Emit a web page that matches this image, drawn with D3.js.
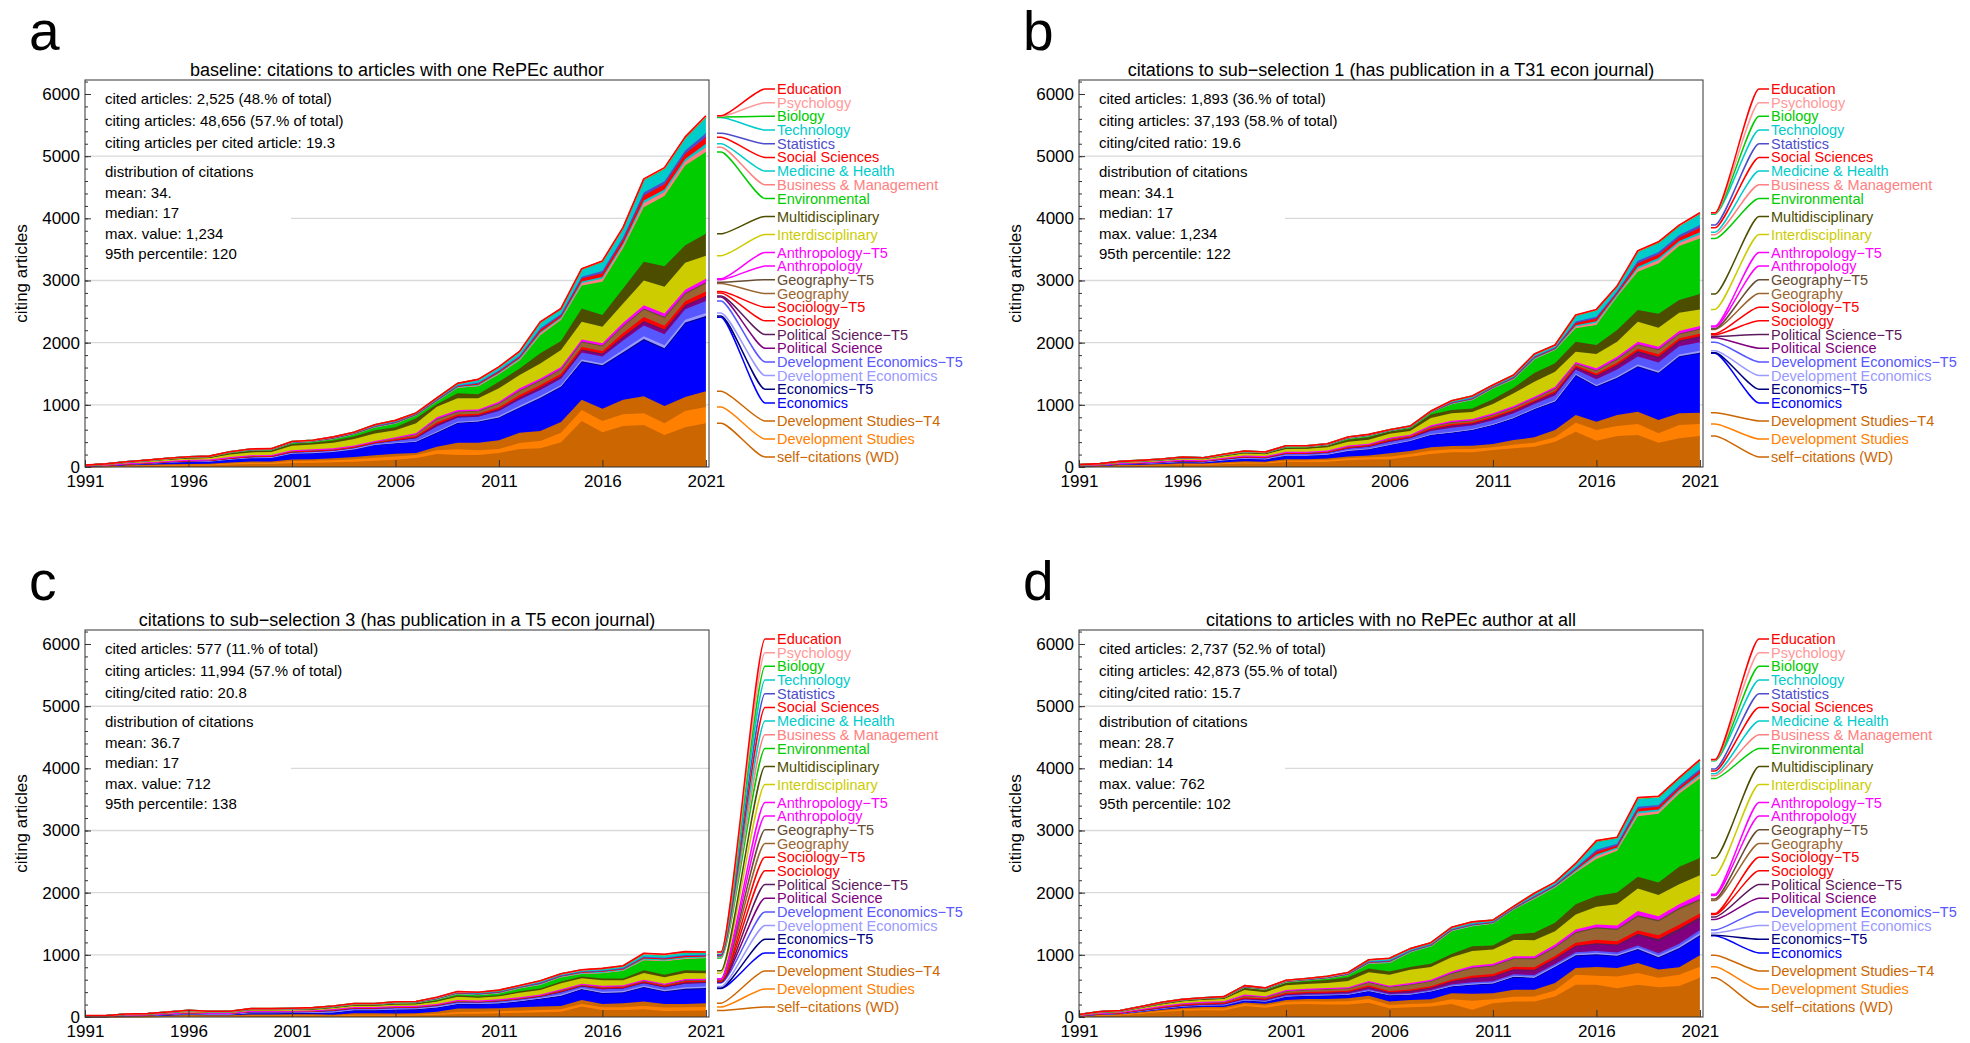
<!DOCTYPE html>
<html>
<head>
<meta charset="utf-8">
<script src="https://cdn.jsdelivr.net/npm/d3@7"></script>
<style>
body{margin:0;background:#fff;}
text{font-family:"Liberation Sans",Arial,sans-serif;}
</style>
</head>
<body>
<svg id="chart" width="1970" height="1043"></svg>
<script>
const years = [1991,1992,1993,1994,1995,1996,1997,1998,1999,2000,2001,2002,2003,2004,2005,2006,2007,2008,2009,2010,2011,2012,2013,2014,2015,2016,2017,2018,2019,2020,2021];
const xTicks = [1991,1996,2001,2006,2011,2016,2021];
const yTicks = [0,1000,2000,3000,4000,5000,6000];
const gridValues = [1000,2000,3000,4000,5000];

// stacking order, bottom to top
const seriesNames = ['self−citations (WD)','Development Studies','Development Studies−T4','Economics','Economics−T5',
  'Development Economics','Development Economics−T5','Political Science','Political Science−T5','Sociology','Sociology−T5',
  'Geography','Geography−T5','Anthropology','Anthropology−T5','Interdisciplinary','Multidisciplinary','Environmental',
  'Business & Management','Medicine & Health','Social Sciences','Statistics','Technology','Biology','Psychology','Education'];
const seriesColors = ['#cc6600','#ff8000','#cc6600','#0000ff','#000080','#9999ff','#5757ff','#800080','#5c1a5c','#ff0000','#ff0000',
  '#996633','#664d33','#ff00ff','#ff00ff','#cccc00','#4d4d00','#00cc00','#ff8080','#00cccc','#ff0000','#4d4dcc','#00cccc','#00cc00','#ff9999','#ff0000'];
// legend gets a wider gap below these entries
const gapAfter = [17,16,15,3,2,1];

const titles = ['baseline: citations to articles with one RePEc author',
  'citations to sub−selection 1 (has publication in a T31 econ journal)',
  'citations to sub−selection 3 (has publication in a T5 econ journal)',
  'citations to articles with no RePEc author at all'];
const letters = ['a','b','c','d'];

const infoA = [['cited articles: 2,525 (48.% of total)','citing articles: 48,656 (57.% of total)','citing articles per cited article: 19.3'],
  ['distribution of citations','mean: 34.','median: 17','max. value: 1,234','95th percentile: 120']];
const infoB = [['cited articles: 1,893 (36.% of total)','citing articles: 37,193 (58.% of total)','citing/cited ratio: 19.6'],
  ['distribution of citations','mean: 34.1','median: 17','max. value: 1,234','95th percentile: 122']];
const infoC = [['cited articles: 577 (11.% of total)','citing articles: 11,994 (57.% of total)','citing/cited ratio: 20.8'],
  ['distribution of citations','mean: 36.7','median: 17','max. value: 712','95th percentile: 138']];
const infoD = [['cited articles: 2,737 (52.% of total)','citing articles: 42,873 (55.% of total)','citing/cited ratio: 15.7'],
  ['distribution of citations','mean: 28.7','median: 14','max. value: 762','95th percentile: 102']];

// citing articles per year, one row per series (same order as seriesNames)
const citesA = [
  [6,10,15,20,25,28,30,40,50,50,65,70,75,85,100,118,145,210,195,195,225,290,300,400,740,560,660,675,515,640,705],
  [2,4,7,8,10,12,12,18,20,20,30,30,35,40,50,52,50,60,90,75,65,95,120,150,175,180,190,190,190,260,260],
  [2,3,5,7,8,10,10,14,18,20,25,25,30,35,40,45,30,55,105,120,140,165,160,175,165,195,230,275,275,225,255],
  [7,11,20,25,35,40,43,53,62,65,100,105,110,130,170,170,180,220,315,335,360,400,525,560,610,690,750,900,915,1185,1190],
  [0,0,0,1,1,1,1,1,1,1,2,2,2,2,2,3,4,8,6,6,8,9,10,10,11,11,15,17,17,16,19],
  [1,1,1,1,2,2,2,3,3,3,4,4,4,4,5,8,11,20,17,16,21,25,26,26,29,29,39,45,46,43,50],
  [1,2,4,5,6,8,8,11,12,12,15,17,15,17,19,29,43,79,65,62,81,98,99,100,112,113,152,174,178,167,192],
  [1,1,1,2,2,2,2,3,4,4,5,5,5,5,6,9,14,26,21,20,26,32,32,33,36,37,49,56,58,54,62],
  [0,0,1,0,1,1,1,1,1,1,2,2,2,2,2,3,4,8,6,6,8,9,10,10,11,11,15,17,17,16,19],
  [0,1,1,1,1,2,2,3,3,3,4,4,4,4,4,7,11,19,16,15,20,24,24,24,27,27,37,42,43,41,47],
  [0,0,0,1,1,1,1,1,1,1,2,2,2,2,2,3,5,9,7,7,9,11,11,11,13,13,17,20,20,19,22],
  [1,2,3,4,4,5,5,7,9,9,10,12,10,12,13,20,30,54,44,42,55,66,67,68,76,77,103,118,121,113,130],
  [0,0,0,0,0,1,1,1,1,1,2,2,2,2,2,3,5,9,7,7,9,11,11,11,13,13,17,20,20,19,22],
  [1,1,1,1,1,1,1,3,4,4,3,4,3,4,4,7,9,17,14,13,17,21,21,22,23,24,32,36,37,35,40],
  [0,0,1,1,1,1,1,1,1,1,1,1,1,1,1,3,4,6,7,6,6,9,9,10,9,10,14,15,18,17,17],
  [3,6,12,15,20,23,25,40,45,45,70,75,90,105,120,110,160,170,190,180,215,215,240,270,285,265,310,400,430,435,370],
  [2,4,6,8,10,12,13,20,23,25,30,30,35,40,50,50,80,40,80,65,105,105,165,145,215,190,240,300,330,280,350],
  [1,2,4,6,8,10,10,15,17,15,20,20,30,40,50,60,50,50,90,130,120,130,290,340,370,535,650,880,1130,1285,1315],
  [0,0,0,1,1,1,1,1,2,2,3,3,4,4,6,7,5,7,10,15,17,20,30,26,38,47,47,64,64,64,80],
  [0,0,0,0,0,0,1,1,1,1,2,2,3,3,4,5,3,5,6,10,11,13,19,17,24,30,30,41,41,41,55],
  [1,1,1,1,1,1,1,2,3,3,4,4,6,6,7,9,6,9,13,20,22,26,39,33,49,60,60,82,82,83,105],
  [0,0,0,0,0,1,1,1,2,2,2,2,3,3,4,5,4,5,8,12,13,16,24,20,30,37,37,50,50,51,65],
  [0,0,1,1,1,1,2,3,5,5,7,7,11,11,16,21,14,21,30,48,52,63,93,80,116,144,144,196,196,198,250],
  [0,0,0,0,0,0,0,0,1,1,1,1,1,1,1,1,1,1,1,2,2,3,4,3,5,6,6,8,8,8,10],
  [0,0,0,0,0,0,0,1,0,0,0,0,1,1,1,1,1,1,1,1,1,2,3,3,4,5,5,7,7,7,10],
  [1,1,1,1,1,1,1,1,1,1,1,1,1,1,1,1,1,1,1,2,2,2,3,3,4,6,6,7,7,8,10]
];
const citesB = [
  [8,12,20,25,32,40,38,50,60,55,80,80,85,110,120,123,166,209,236,236,273,300,327,407,568,423,498,515,391,461,498],
  [2,3,6,7,8,10,10,13,18,17,25,25,27,30,35,43,43,53,50,55,43,59,64,70,145,172,161,176,151,214,193],
  [2,3,5,6,7,10,8,12,15,14,20,20,23,30,30,54,48,54,50,50,54,75,86,118,123,134,177,198,214,188,183],
  [8,12,21,22,25,30,28,37,47,44,65,65,70,95,105,134,166,199,216,254,305,349,451,455,644,562,590,724,751,911,954],
  [0,0,0,0,1,1,1,1,1,1,1,1,1,2,2,3,2,4,4,4,4,5,5,5,5,7,8,9,10,9,10],
  [1,1,1,1,2,2,2,3,3,3,4,4,4,5,6,8,7,11,13,12,13,14,14,17,14,20,24,27,29,28,30],
  [2,3,4,6,7,9,8,12,15,14,17,17,19,25,27,37,31,49,62,56,60,63,65,77,67,94,111,128,136,132,140],
  [1,1,2,3,3,4,4,5,7,7,9,9,10,13,14,18,15,25,31,28,30,32,32,38,34,47,55,64,68,66,70],
  [0,0,1,1,1,1,1,2,2,2,3,3,3,5,5,7,6,9,11,10,11,11,12,14,12,17,20,23,24,24,25],
  [1,1,1,1,2,2,2,3,3,3,4,4,4,5,5,7,6,9,11,10,11,11,12,14,12,17,20,23,24,24,25],
  [0,0,1,1,1,1,1,1,2,2,2,2,2,3,3,4,3,5,7,6,7,7,7,8,7,10,12,14,15,14,15],
  [1,2,2,3,3,4,4,6,7,7,8,8,9,12,13,18,15,24,30,28,29,31,31,37,32,47,55,64,68,66,70],
  [0,0,0,0,1,1,1,1,1,1,1,1,2,2,2,3,2,4,5,5,5,5,5,6,5,8,9,11,12,11,12],
  [1,1,1,1,1,2,1,3,4,4,4,4,4,5,5,7,6,10,12,11,11,12,12,15,13,18,21,25,26,25,27],
  [0,0,1,1,1,1,1,1,1,1,2,2,2,3,3,4,4,5,7,7,7,7,8,10,9,11,13,14,15,14,15],
  [4,6,10,12,15,19,18,25,34,32,45,47,53,60,65,65,60,120,118,112,150,204,241,242,164,230,241,322,306,294,268],
  [2,4,6,7,7,9,8,11,15,13,20,20,22,35,40,35,35,55,54,59,75,91,139,134,161,145,188,188,226,204,247],
  [2,2,4,5,6,8,7,10,12,12,18,18,18,22,25,15,25,35,96,134,177,134,221,213,215,321,535,615,809,869,895],
  [0,0,1,1,1,1,1,1,1,1,2,2,2,3,3,2,3,3,8,9,8,10,12,12,31,37,25,49,51,49,60],
  [0,0,0,0,0,1,1,1,1,1,1,1,2,2,2,1,2,2,5,6,5,7,8,8,21,24,17,33,34,33,40],
  [1,1,1,1,1,1,1,2,2,2,3,3,3,4,4,3,3,4,9,11,9,12,15,14,36,43,29,57,59,57,70],
  [0,0,0,0,1,1,1,1,1,1,2,1,2,2,2,2,2,2,6,7,6,8,9,9,24,28,19,37,38,37,45],
  [1,1,2,2,2,2,2,2,3,3,5,4,6,7,7,5,7,7,22,28,22,28,36,34,91,107,72,143,147,142,175],
  [0,0,0,0,0,0,0,0,1,0,1,1,1,1,1,1,1,1,1,2,1,2,2,2,4,5,4,7,7,7,8],
  [0,0,0,0,0,0,0,0,0,0,0,0,0,0,0,0,0,0,1,1,1,1,1,1,3,4,3,6,6,6,7],
  [1,1,1,1,1,1,1,1,1,1,1,1,1,1,1,1,1,1,1,1,1,1,2,2,4,4,3,6,6,6,8]
];
const citesC = [
  [3,3,6,7,11,15,13,13,20,20,22,22,16,27,27,26,28,32,54,54,59,70,76,86,167,113,113,124,97,102,105],
  [1,1,3,3,5,6,5,5,7,7,5,5,6,11,11,11,12,22,27,32,33,32,37,38,43,43,43,54,54,54,55],
  [2,2,6,6,9,12,10,10,15,15,16,16,16,21,21,21,20,32,54,49,48,54,54,54,65,54,65,70,59,54,62],
  [4,4,9,11,15,21,18,18,26,26,27,27,38,54,54,64,65,70,75,75,81,98,130,162,173,173,173,232,200,238,238],
  [0,0,0,0,1,1,1,1,1,1,1,1,2,1,1,2,2,2,2,2,2,2,2,3,3,4,4,4,4,5,5],
  [1,1,2,2,3,4,3,3,5,5,5,6,8,8,8,9,9,9,10,9,10,10,10,17,14,19,19,19,20,26,25],
  [2,2,4,5,7,9,8,8,11,11,11,13,19,17,17,19,19,19,23,19,23,22,22,38,30,42,41,42,43,57,55],
  [0,0,1,1,2,3,2,2,3,3,3,4,5,5,5,5,6,5,7,5,7,7,7,11,9,12,12,12,12,16,15],
  [0,0,0,0,1,1,1,1,1,1,1,1,2,2,2,2,2,2,2,2,2,2,2,3,3,4,4,4,4,5,5],
  [1,1,1,1,2,2,2,2,3,3,3,3,4,4,4,4,4,4,5,4,5,5,5,9,7,9,9,9,10,13,12],
  [0,0,1,1,1,1,1,1,2,2,2,2,3,2,2,3,3,3,3,3,3,3,3,5,4,6,6,6,6,8,8],
  [0,0,1,1,1,2,2,2,3,3,3,3,4,4,4,4,4,4,5,4,5,5,5,9,7,10,10,10,10,13,12],
  [0,0,0,0,0,1,0,0,1,1,1,1,2,2,2,2,2,2,2,2,2,2,2,3,3,3,3,3,4,5,4],
  [1,1,1,1,1,1,1,1,1,1,1,3,3,3,3,3,3,3,4,3,4,4,4,7,4,7,7,7,7,10,9],
  [0,0,1,1,1,1,1,1,1,1,1,1,1,1,1,1,1,1,2,1,2,2,2,3,2,3,3,3,4,4,5],
  [3,3,6,6,8,11,10,10,14,14,16,15,19,23,23,27,27,40,50,47,47,72,72,94,89,88,80,108,106,98,90],
  [1,1,2,2,4,5,4,4,6,6,6,6,8,9,9,11,11,14,20,18,18,25,25,30,30,30,28,43,40,42,40],
  [1,1,2,2,4,5,4,4,5,5,5,11,11,11,11,16,16,22,27,27,32,49,60,70,43,87,124,161,215,183,203],
  [0,0,0,1,1,1,1,1,1,1,2,2,2,2,2,2,2,5,6,6,7,6,10,8,10,11,12,17,17,18,15],
  [0,0,0,0,0,1,1,1,1,1,1,1,1,1,1,2,2,3,4,4,5,4,7,5,7,8,8,11,11,12,10],
  [1,1,1,1,1,1,1,1,2,2,2,2,2,2,2,3,3,6,7,8,9,8,12,10,12,13,15,21,21,21,18],
  [0,0,0,0,0,1,0,0,1,1,1,1,1,1,1,2,2,3,4,4,5,4,6,5,6,8,8,11,11,12,10],
  [0,0,1,1,2,2,2,2,3,3,3,3,3,3,3,5,5,11,13,16,18,16,23,20,23,27,29,41,41,43,35],
  [0,0,0,0,0,0,0,0,1,1,1,1,1,1,1,1,1,1,1,1,2,1,2,2,2,2,3,4,4,4,3],
  [0,0,0,0,0,0,0,0,0,0,0,0,0,0,0,0,0,1,1,2,1,2,2,2,2,3,3,4,4,4,3],
  [1,1,1,1,1,1,1,1,1,1,1,1,1,1,1,1,1,2,2,2,2,2,3,2,3,3,3,5,5,5,4]
];
const citesD = [
  [10,25,30,55,80,100,110,105,178,150,200,210,200,200,230,140,156,167,210,115,221,248,250,329,518,518,464,518,480,500,630],
  [4,8,10,15,20,25,28,30,32,35,45,45,50,55,60,54,54,54,76,145,65,77,80,97,162,145,189,189,150,180,180],
  [3,7,8,12,18,20,22,25,22,27,30,35,40,45,50,54,65,65,97,115,97,115,107,119,108,141,135,161,135,120,185],
  [5,10,12,18,22,27,30,35,38,38,55,55,60,60,80,103,86,124,108,143,151,200,189,259,199,199,188,216,185,300,310],
  [0,0,0,1,1,1,1,1,2,2,2,2,2,2,3,3,3,3,4,5,5,6,6,6,7,8,8,10,10,10,10],
  [1,1,1,2,2,3,3,3,5,5,6,6,6,7,9,7,8,9,11,14,15,18,18,18,20,22,22,25,30,30,35],
  [1,1,2,3,4,5,5,6,8,8,10,10,11,11,15,10,12,12,16,20,20,24,25,25,28,30,30,30,35,40,50],
  [2,3,4,6,8,10,11,12,18,17,21,22,23,24,32,26,32,33,45,62,70,68,70,75,90,105,110,160,190,200,170],
  [0,1,1,1,2,2,2,3,4,4,5,5,5,5,7,6,7,7,9,12,12,13,14,14,15,20,20,30,40,45,40],
  [1,1,2,3,4,5,5,6,8,8,10,10,11,11,15,11,14,14,18,24,25,28,30,30,35,40,40,40,45,45,40],
  [0,1,1,1,1,2,2,2,3,3,3,4,4,4,5,4,5,5,7,9,10,10,10,10,12,14,14,14,15,15,15],
  [2,5,6,9,12,15,17,18,28,26,33,35,36,38,50,61,75,77,95,120,125,125,130,130,155,180,180,220,220,245,210],
  [0,0,1,1,2,2,2,2,3,3,4,4,4,4,6,7,8,8,10,13,14,14,15,15,17,20,20,25,25,27,25],
  [1,1,1,2,3,4,5,5,8,7,8,9,10,10,13,12,14,15,19,20,20,21,22,27,30,35,38,45,45,40,55],
  [0,1,1,1,1,1,2,2,3,2,3,3,3,4,5,4,6,6,8,8,8,9,10,11,12,12,14,21,15,15,20],
  [4,9,10,20,25,30,33,35,75,65,75,75,80,100,140,178,215,205,227,237,226,264,259,216,242,286,340,362,343,324,306],
  [2,4,5,8,13,14,14,15,30,30,35,40,50,60,60,53,44,54,54,76,65,90,119,135,162,172,189,188,200,280,275],
  [2,4,4,5,8,10,10,13,17,20,20,25,30,40,80,137,236,280,367,323,356,401,546,566,513,593,674,977,1105,1176,1280],
  [0,1,1,1,2,1,1,1,3,3,4,4,4,5,9,11,9,8,9,10,8,7,13,13,21,44,32,44,42,38,45],
  [0,0,0,1,1,1,1,1,2,2,2,2,3,3,6,7,6,6,6,7,5,5,9,9,14,29,21,30,28,25,30],
  [1,1,1,1,2,1,1,2,4,3,4,4,5,6,9,11,9,9,10,10,8,7,13,13,22,44,32,44,42,38,45],
  [0,0,1,1,1,1,1,1,3,2,3,3,3,4,7,9,7,7,7,8,6,6,10,10,17,34,25,34,32,30,35],
  [0,1,2,2,4,3,3,3,9,6,10,10,12,14,25,32,25,23,26,29,23,20,39,37,63,127,92,128,120,110,130],
  [0,0,0,0,1,0,0,0,1,1,1,1,1,1,1,2,1,1,1,2,1,1,2,2,3,7,5,7,6,6,6],
  [0,0,0,0,0,0,0,0,0,0,0,0,1,1,1,1,1,1,1,1,1,1,2,2,2,6,4,6,6,5,6],
  [1,1,1,1,1,1,1,1,1,1,1,1,1,1,2,2,2,2,2,2,2,2,2,2,3,6,5,6,6,6,7]
];

const W = 624, H = 387;
const svg = d3.select('#chart');
const panels = [
  {letter:letters[0], title:titles[0], info:infoA, data:citesA, left:85,   top:80},
  {letter:letters[1], title:titles[1], info:infoB, data:citesB, left:1079, top:80},
  {letter:letters[2], title:titles[2], info:infoC, data:citesC, left:85,   top:630},
  {letter:letters[3], title:titles[3], info:infoD, data:citesD, left:1079, top:630}
];

// label slots from top (Education) down to the bottom (self-citations)
function labelPositions(){
  let pos = [], yy = 9;
  for (let k = seriesNames.length - 1; k >= 0; k--){
    pos[k] = yy;
    yy += gapAfter.includes(k) ? 18 : 13.68;
  }
  return pos;
}
const labelY = labelPositions();

function drawPanel(p){
  const x = d3.scaleLinear().domain([1991, 2021.15]).range([0, W]);
  const y = d3.scaleLinear().domain([0, 6225]).range([H, 0]);

  svg.append('text')
     .attr('x', p.left - 56).attr('y', p.top - 30)
     .attr('font-size', 55).text(p.letter);

  const g = svg.append('g').attr('transform', `translate(${p.left},${p.top})`);

  g.append('text')
   .attr('x', W / 2).attr('y', -4)
   .attr('text-anchor', 'middle').attr('font-size', 18)
   .text(p.title);

  g.append('text')
   .attr('transform', `translate(-64,${H / 2})rotate(-90)`)
   .attr('text-anchor', 'middle').attr('dy', '0.35em').attr('font-size', 17)
   .text('citing articles');

  g.selectAll('line.grid').data(gridValues).join('line')
   .attr('class', 'grid')
   .attr('x1', 0).attr('x2', W)
   .attr('y1', d => y(d)).attr('y2', d => y(d))
   .attr('stroke', '#d9d9d9').attr('stroke-width', 1.3);

  // white box behind the distribution block
  g.append('rect').attr('x', 1).attr('y', 80).attr('width', 205).attr('height', 106).attr('fill', '#fff');

  const table = years.map((yr, i) => {
    const row = {year: yr};
    seriesNames.forEach((s, k) => row[s] = p.data[k][i]);
    return row;
  });
  const stacked = d3.stack().keys(seriesNames)(table);
  const area = d3.area().x(d => x(d.data.year)).y0(d => y(d[0])).y1(d => y(d[1]));
  const edge = d3.line().x(d => x(d.data.year)).y(d => y(d[1]));

  stacked.forEach((s, k) => {
    g.append('path').attr('d', area(s)).attr('fill', seriesColors[k]);
    g.append('path').attr('d', edge(s)).attr('fill', 'none')
     .attr('stroke', seriesColors[k]).attr('stroke-width', 1.6).attr('stroke-linejoin', 'round');
  });

  g.append('rect').attr('width', W).attr('height', H)
   .attr('fill', 'none').attr('stroke', '#333').attr('stroke-width', 1);

  g.append('g')
   .call(d3.axisLeft(y).tickValues(yTicks).tickSize(-6).tickPadding(5).tickFormat(d3.format('d')));
  g.append('g')
   .call(d3.axisLeft(y).tickValues(d3.range(0, 6201, 200)).tickSize(-3).tickFormat(''));
  g.append('g').attr('transform', `translate(0,${H})`)
   .call(d3.axisBottom(x).tickValues(xTicks).tickSize(-7).tickPadding(8).tickFormat(d3.format('d')));
  g.selectAll('.domain').remove();
  g.selectAll('.tick line').attr('stroke', '#333');
  g.selectAll('.tick text').attr('font-size', 17).attr('fill', '#000')
   .attr('font-family', '"Liberation Sans",Arial,sans-serif');

  const info = g.append('g').attr('font-size', 15);
  const infoY = [[24, 46, 68], [97, 117.5, 138, 158.5, 179]];
  p.info.forEach((block, b) => block.forEach((t, i) => {
    info.append('text').attr('x', 20).attr('y', infoY[b][i]).text(t);
  }));

  // callout labels
  const last = years.length - 1;
  stacked.forEach((s, k) => {
    const ya = y(s[last][1]), yl = labelY[k];
    const x0 = W + 8, x1 = W + 12, x2 = W + 56, x3 = W + 66;
    const path = `M${x0},${ya}L${x1},${ya}C${x1 + 9},${ya} ${x2 - 9},${yl} ${x2},${yl}L${x3},${yl}`;
    g.append('path').attr('d', path).attr('fill', 'none')
     .attr('stroke', seriesColors[k]).attr('stroke-width', 1.5);
    g.append('text').attr('x', W + 68).attr('y', yl).attr('dy', '0.35em')
     .attr('font-size', 14.5).attr('fill', seriesColors[k]).text(seriesNames[k]);
  });
}

panels.forEach(drawPanel);
</script>
</body>
</html>
